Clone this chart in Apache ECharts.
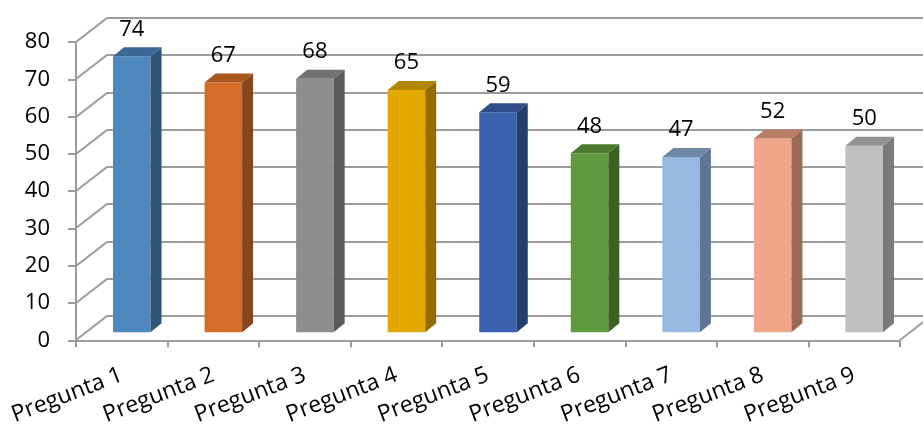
<!DOCTYPE html>
<html>
<head>
<meta charset="utf-8">
<script src="https://cdn.jsdelivr.net/npm/echarts@6/dist/echarts.min.js"></script>
<style>
  html, body { margin: 0; padding: 0; background: #ffffff; }
  #chart { width: 923px; height: 428px; }
</style>
</head>
<body>
<div id="chart"></div>
<script>
// Chart data
const categories = ['Pregunta 1', 'Pregunta 2', 'Pregunta 3', 'Pregunta 4', 'Pregunta 5',
                    'Pregunta 6', 'Pregunta 7', 'Pregunta 8', 'Pregunta 9'];
const values = [74, 67, 68, 65, 59, 48, 47, 52, 50];
const yTicks = [0, 10, 20, 30, 40, 50, 60, 70, 80];

// Shading for each column: front, side, top
const barColors = [
  ['#4f87bf', '#2f5678', '#3b6896'],
  ['#d46d2a', '#86461b', '#a9561f'],
  ['#8e8e8e', '#5a5a5a', '#727272'],
  ['#e2aa00', '#916c00', '#b38600'],
  ['#3a62ae', '#233d6e', '#2e4d89'],
  ['#609a3e', '#3c6127', '#4b7a31'],
  ['#97b8e0', '#5e7490', '#7089a8'],
  ['#f0a789', '#996a56', '#b77d65'],
  ['#bfbfbf', '#7a7a7a', '#939393']
];

const FONT = '"Open Sans", "Liberation Sans", sans-serif';
const GRID_COLOR = '#9c9c9c';

// Depth of the back wall (oblique projection)
const WALL_DX = 31, WALL_DY = -24;
// Column placement inside the depth and column thickness
const BAR_OX = 10, BAR_OY = -8;
const BAR_DX = 11, BAR_DY = -9;
const BAR_WIDTH_RATIO = 0.41;

function renderWalls(params, api) {
  const cs = params.coordSys;
  const v = api.value(1);
  const y = Math.round(api.coord([0, v])[1]);
  const children = [{
    type: 'polyline',
    shape: { points: [[cs.x, y], [cs.x + WALL_DX, y + WALL_DY], [cs.x + cs.width + WALL_DX, y + WALL_DY]] },
    style: { stroke: GRID_COLOR, lineWidth: 2, fill: null }
  }];
  if (v === 0) {
    children.push({
      type: 'line',
      shape: { x1: cs.x + cs.width, y1: y, x2: cs.x + cs.width + WALL_DX, y2: y + WALL_DY },
      style: { stroke: GRID_COLOR, lineWidth: 2 }
    });
  }
  return { type: 'group', children: children };
}

function renderBar(params, api) {
  const idx = api.value(0);
  const v = api.value(1);
  const top = api.coord([idx, v]);
  const base = api.coord([idx, 0]);
  const w = api.size([1, 0])[0] * BAR_WIDTH_RATIO;
  const xL = top[0] + BAR_OX - w / 2;
  const xR = top[0] + BAR_OX + w / 2;
  const yT = top[1] + BAR_OY;
  const yB = base[1] + BAR_OY;
  const c = barColors[idx];
  return {
    type: 'group',
    children: [
      { type: 'rect', shape: { x: xL, y: yT, width: w, height: yB - yT }, style: { fill: c[0] } },
      { type: 'polygon', shape: { points: [[xR, yT], [xR + BAR_DX, yT + BAR_DY], [xR + BAR_DX, yB + BAR_DY], [xR, yB]] }, style: { fill: c[1] } },
      { type: 'polygon', shape: { points: [[xL, yT], [xL + BAR_DX, yT + BAR_DY], [xR + BAR_DX, yT + BAR_DY], [xR, yT]] }, style: { fill: c[2] } },
      { type: 'text', style: { text: String(v), x: (xL + xR) / 2, y: yT - 27, align: 'center', verticalAlign: 'middle',
          font: '22px ' + FONT, fill: '#000000' } }
    ]
  };
}

const chart = echarts.init(document.getElementById('chart'), null, { renderer: 'canvas' });
chart.setOption({
  backgroundColor: '#ffffff',
  animation: false,
  grid: { left: 76, right: 23, top: 42, bottom: 87 },
  xAxis: {
    type: 'category',
    data: categories,
    boundaryGap: true,
    axisLine: { show: true, lineStyle: { color: GRID_COLOR, width: 2 } },
    axisTick: { show: true, length: 7, interval: 0, lineStyle: { color: GRID_COLOR, width: 2 } },
    axisLabel: { interval: 0, rotate: 21, margin: 34, fontSize: 23, fontFamily: FONT, color: '#000000' },
    splitLine: { show: false }
  },
  yAxis: {
    type: 'value',
    min: 0, max: 80, interval: 10,
    axisLine: { show: true, lineStyle: { color: GRID_COLOR, width: 2 } },
    axisTick: { show: true, length: 8, lineStyle: { color: GRID_COLOR, width: 2 } },
    axisLabel: { margin: 26, fontSize: 22, fontFamily: FONT, color: '#000000' },
    splitLine: { show: false }
  },
  series: [
    {
      type: 'custom',
      clip: false,
      z: 1,
      silent: true,
      data: yTicks.map(v => [0, v]),
      renderItem: renderWalls
    },
    {
      type: 'custom',
      clip: false,
      z: 3,
      data: values.map((v, i) => [i, v]),
      renderItem: renderBar
    }
  ]
});
</script>
</body>
</html>
